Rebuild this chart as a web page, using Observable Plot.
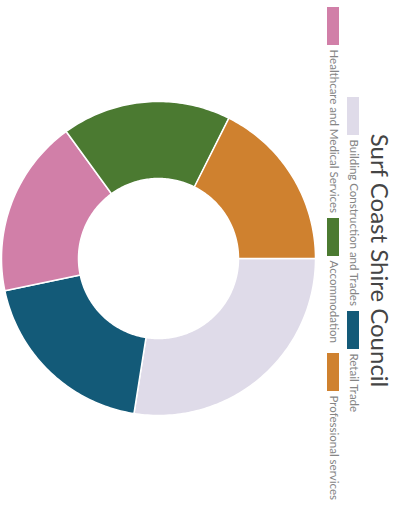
<!DOCTYPE html>
<html>
<head>
<meta charset="utf-8">
<script src="https://cdn.jsdelivr.net/npm/d3@7"></script>
<script src="https://cdn.jsdelivr.net/npm/@observablehq/plot@0.6"></script>
<style>
  html, body { margin: 0; padding: 0; background: #ffffff; }
  #chart { width: 404px; height: 507px; overflow: hidden; }
</style>
</head>
<body>
<div id="chart"></div>
<script>
// ---- data ----
const title = "Surf Coast Shire Council";
const categories = [
  "Building Construction and Trades",
  "Retail Trade",
  "Healthcare and Medical Services",
  "Accommodation",
  "Professional services"
];
const shares = [27.5, 19.2, 18.3, 17.4, 17.6];
const sliceColors = ["#dfdbe9", "#135a78", "#d17fa8", "#4b7a31", "#cf812f"];
const legendOrder = [
  "Healthcare and Medical Services",
  "Building Construction and Trades",
  "Accommodation",
  "Retail Trade",
  "Professional services"
];

// ---- layout (the picture is turned a quarter turn clockwise) ----
const W = 404, H = 507;
const cx = 158, cy = 258, R = 157, r = 80;

const rows = categories.map((c, i) => ({category: c, share: shares[i]}));
const arcs = d3.pie().sort(null).value(d => d.share)
  .startAngle(Math.PI / 2).endAngle(Math.PI / 2 + 2 * Math.PI)(rows);

const pts = [];
for (const a of arcs) {
  const n = Math.max(8, Math.ceil((a.endAngle - a.startAngle) / (Math.PI / 180)));
  const ring = [];
  for (let k = 0; k <= n; k++) {
    const t = a.startAngle + (a.endAngle - a.startAngle) * k / n;
    ring.push({category: a.data.category, px: cx + R * Math.sin(t), py: cy - R * Math.cos(t)});
  }
  for (let k = n; k >= 0; k--) {
    const t = a.startAngle + (a.endAngle - a.startAngle) * k / n;
    ring.push({category: a.data.category, px: cx + r * Math.sin(t), py: cy - r * Math.cos(t)});
  }
  pts.push(...ring);
}

// legend placement (two staggered rows, turned)
const legendPlace = {
  "Healthcare and Medical Services": {col: 333, start: 7},
  "Building Construction and Trades": {col: 353, start: 97},
  "Accommodation": {col: 333, start: 218},
  "Retail Trade": {col: 353, start: 311},
  "Professional services": {col: 333, start: 353}
};
const swLen = 38, swW = 12, gap = 4;
const legend = legendOrder.map(c => ({category: c, ...legendPlace[c]}));

const chart = Plot.plot({
  width: W,
  height: H,
  margin: 0,
  style: {background: "#ffffff"},
  x: {domain: [0, W], range: [0, W], axis: null},
  y: {domain: [0, H], range: [0, H], axis: null},
  color: {domain: categories, range: sliceColors},
  marks: [
    Plot.line(pts, {
      x: "px", y: "py", z: "category", fill: "category",
      stroke: "#ffffff", strokeWidth: 1.5, curve: "linear-closed"
    }),
    Plot.rect(legend, {
      x1: d => d.col - swW / 2, x2: d => d.col + swW / 2,
      y1: d => d.start, y2: d => d.start + swLen,
      fill: "category"
    }),
    Plot.text(legend, {
      x: d => d.col, y: d => d.start + swLen + gap,
      text: "category", rotate: 90, textAnchor: "start",
      fontSize: 11.5, fontFamily: "Lato, 'Open Sans', sans-serif",
      fill: "#858585"
    }),
    Plot.text([title], {
      x: () => 378, y: () => 260, text: d => d,
      rotate: 90, textAnchor: "middle",
      fontSize: 24, fontWeight: "normal",
      fontFamily: "Lato, 'Open Sans', sans-serif",
      fill: "#454545"
    })
  ]
});
document.getElementById("chart").appendChild(chart);
</script>
</body>
</html>
